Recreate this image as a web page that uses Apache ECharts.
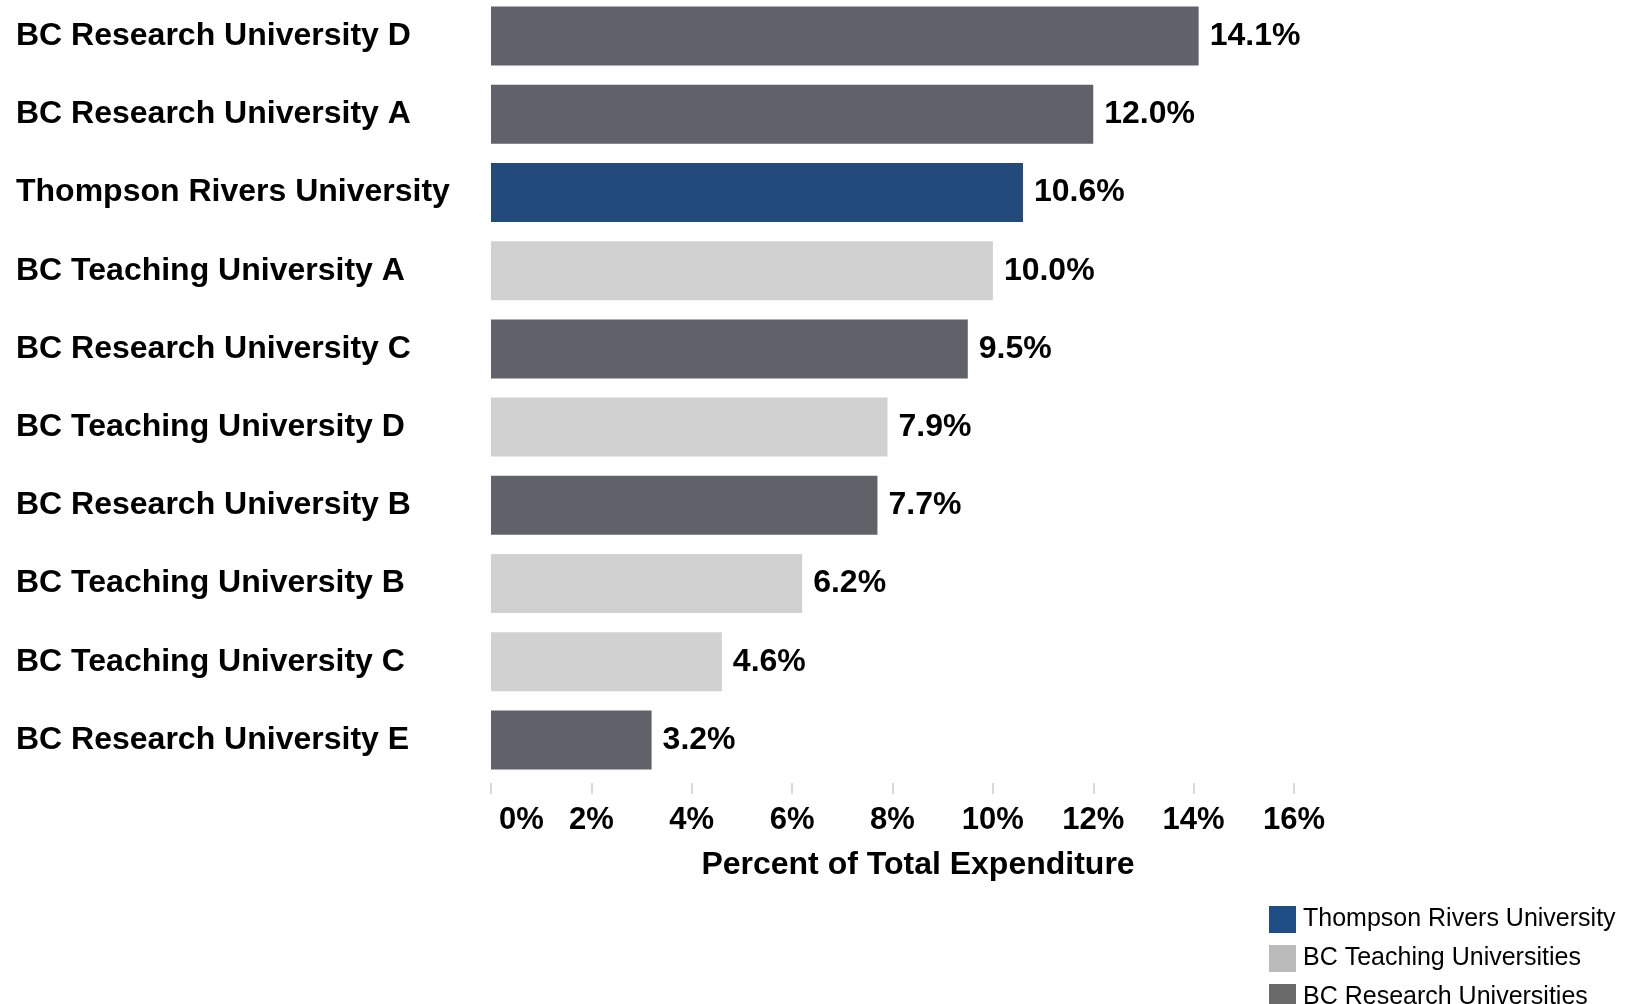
<!DOCTYPE html>
<html>
<head>
<meta charset="utf-8">
<script src="https://cdn.jsdelivr.net/npm/echarts@6/dist/echarts.min.js"></script>
<style>
  html, body { margin: 0; padding: 0; background: #fff; }
  #chart { width: 1627px; height: 1004px; }
</style>
</head>
<body>
<div id="chart"></div>
<script>
const universities = ['BC Research University D', 'BC Research University A', 'Thompson Rivers University',
  'BC Teaching University A', 'BC Research University C', 'BC Teaching University D',
  'BC Research University B', 'BC Teaching University B', 'BC Teaching University C',
  'BC Research University E'];
const percents = [14.1, 12.0, 10.6, 10.0, 9.5, 7.9, 7.7, 6.2, 4.6, 3.2];
const groups = ['research', 'research', 'tru', 'teaching', 'research', 'teaching',
  'research', 'teaching', 'teaching', 'research'];
const axisTicks = [0, 2, 4, 6, 8, 10, 12, 14, 16];

const groupNames = { tru: 'Thompson Rivers University', teaching: 'BC Teaching Universities', research: 'BC Research Universities' };
const barColors = { tru: '#224b7c', teaching: '#d1d1d1', research: '#5f6269' };
const legendColors = { tru: '#1f4e87', teaching: '#bbbbbb', research: '#6a6a6a' };
const FONT = '"Liberation Sans", Arial, sans-serif';
const boldText = { color: '#000', fontFamily: FONT, fontWeight: 'bold' };

const makeSeries = (key) =>
{
  return {
    name: groupNames[key],
    type: 'bar',
    stack: 'all',
    barCategoryGap: '24.5%',
    itemStyle: { color: barColors[key] },
    data: percents.map((v, i) => groups[i] === key ? v : null),
    label: Object.assign({
      show: true,
      position: 'right',
      distance: 11,
      fontSize: 32,
      formatter: (p) => p.value == null ? '' : p.value.toFixed(1) + '%'
    }, boldText)
  };
};

const getOption = () =>
{
  return {
    animation: false,
    backgroundColor: '#fff',
    grid: { left: 491, right: 333, top: -3, height: 782, outerBoundsMode: 'none', containLabel: false },
    legend: {
      orient: 'vertical',
      left: 1269,
      top: 906,
      height: 130,
      itemWidth: 27,
      itemHeight: 27,
      itemGap: 12,
      icon: 'rect',
      padding: 0,
      textStyle: { fontFamily: FONT, fontSize: 25, lineHeight: 27, color: '#000', padding: [0, 0, 0, 2] },
      data: ['tru', 'teaching', 'research'].map(k => ({ name: groupNames[k], itemStyle: { color: legendColors[k] } }))
    },
    xAxis: {
      type: 'value',
      min: axisTicks[0],
      max: axisTicks[axisTicks.length - 1],
      interval: 2,
      offset: 4,
      splitLine: { show: false },
      axisLine: { show: false },
      axisTick: { show: true, length: 11, lineStyle: { color: '#d9d9d9', width: 2 } },
      axisLabel: Object.assign({
        margin: 22,
        fontSize: 31,
        alignMinLabel: 'left',
        formatter: (v) => v === 0 ? '{first|0%}' : v + '%',
        rich: { first: Object.assign({ fontSize: 31, padding: [0, 0, 0, 8] }, boldText) }
      }, boldText),
      name: 'Percent of Total Expenditure',
      nameLocation: 'middle',
      nameGap: 66,
      nameTextStyle: Object.assign({ fontSize: 32, padding: [0, 0, 0, 51] }, boldText)
    },
    yAxis: {
      type: 'category',
      inverse: true,
      data: universities,
      axisLine: { show: false },
      axisTick: { show: false },
      axisLabel: Object.assign({ margin: 475, align: 'left', fontSize: 32 }, boldText)
    },
    series: ['tru', 'teaching', 'research'].map(makeSeries)
  };
};

window.addEventListener('load', () =>
{
  const chart = echarts.init(document.getElementById('chart'));
  chart.setOption(getOption());
});
</script>
</body>
</html>
